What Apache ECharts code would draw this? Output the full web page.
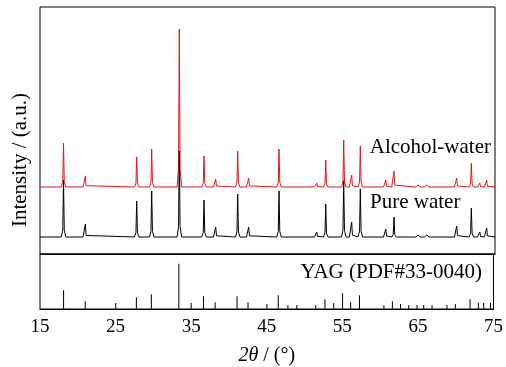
<!DOCTYPE html>
<html>
<head>
<meta charset="utf-8">
<script src="https://cdn.jsdelivr.net/npm/echarts@6/dist/echarts.min.js"></script>
<style>
  html, body { margin: 0; padding: 0; background: #fff; }
  #main { width: 506px; height: 367px; }
</style>
</head>
<body>
<div id="main"></div>
<script>
// peak positions (2theta, deg) of the measured patterns
const peakPos = [18.1, 20.98, 27.75, 29.73, 33.37, 36.63, 38.17, 41.07, 42.52, 46.52,
  51.49, 52.68, 55.05, 56.1, 57.24, 60.6, 61.68, 64.85, 66.0, 69.95, 71.88, 73.0, 73.9];
// peak heights above baseline (a.u.)
const alcoholWater = [44, 11, 30, 38, 158, 31, 8, 36, 9, 38,
  4, 27, 47, 12, 41, 7, 16, 2, 2, 9, 24, 4, 7];
const pureWater = [57, 13, 36, 46, 86, 37, 10, 43, 10, 46,
  5, 33, 56, 15, 48, 8, 20, 2, 2, 11, 29, 5, 9];
const alcoholOffset = 67;
const pureOffset = 17;

// YAG reference card PDF#33-0040
const refPos = [18.12, 20.98, 25.02, 27.75, 29.73, 33.37, 35.0, 36.63, 38.17, 41.07, 42.52,
  45.02, 46.52, 47.8, 48.98, 51.49, 52.7, 53.86, 55.03, 56.1, 57.27, 60.5, 61.62, 62.7,
  63.79, 64.89, 65.77, 66.87, 68.84, 69.95, 71.9, 73.0, 73.7, 74.6];
const refInt = [19, 8, 6, 12, 15, 46, 6, 13, 7, 13, 7,
  5, 14, 4, 4, 4, 10, 6, 16, 7, 14, 4, 8, 5,
  4, 4, 4, 4, 4, 5, 10, 6, 6, 6];

const xTicks = [15, 25, 35, 45, 55, 65, 75];

function pattern(heights, offset) {
  const pts = [[15, offset]];
  peakPos.forEach((p, i) => {
    const h = heights[i];
    pts.push([p - 0.3, offset], [p - 0.1, offset + h * 0.12], [p, offset + h],
      [p + 0.1, offset + h * 0.12], [p + 0.3, offset]);
  });
  pts.push([75, offset]);
  return pts;
}

const chart = echarts.init(document.getElementById('main'));
const font = '"Liberation Serif", "Times New Roman", serif';

const option = {
  animation: false,
  textStyle: { fontFamily: font },
  grid: [
    { left: 40, right: 11, top: 7, height: 247, show: true, borderColor: '#000', borderWidth: 1 },
    { left: 40, right: 11, top: 254, height: 56, show: true, borderColor: '#000', borderWidth: 1 }
  ],
  xAxis: [
    { type: 'value', gridIndex: 0, min: 15, max: 75, interval: 10,
      axisLabel: { show: false }, axisTick: { show: false }, splitLine: { show: false },
      axisLine: { lineStyle: { color: '#000' } } },
    { type: 'value', gridIndex: 1, min: 15, max: 75, interval: 10,
      axisTick: { show: false }, splitLine: { show: false },
      axisLine: { lineStyle: { color: '#000' } },
      axisLabel: { color: '#000', fontSize: 19, fontFamily: font, margin: 9,
        formatter: v => xTicks.includes(v) ? String(v) : '' },
      name: '{i|2θ} / (°)', nameLocation: 'middle', nameGap: 37,
      nameTextStyle: { color: '#000', fontSize: 20, fontFamily: font,
        rich: { i: { fontStyle: 'italic', fontSize: 20, fontFamily: font, color: '#000' } } } }
  ],
  yAxis: [
    { type: 'value', gridIndex: 0, min: 0, max: 247, show: false, splitLine: { show: false } },
    { type: 'value', gridIndex: 1, min: 0, max: 56, show: false, splitLine: { show: false } }
  ],
  series: [
    { type: 'line', name: 'Alcohol-water', xAxisIndex: 0, yAxisIndex: 0,
      data: pattern(alcoholWater, alcoholOffset), showSymbol: false,
      lineStyle: { color: '#e3131b', width: 1 } },
    { type: 'line', name: 'Pure water', xAxisIndex: 0, yAxisIndex: 0,
      data: pattern(pureWater, pureOffset), showSymbol: false,
      lineStyle: { color: '#000', width: 1 } },
    { type: 'bar', name: 'YAG', xAxisIndex: 1, yAxisIndex: 1,
      data: refPos.map((p, i) => [p, refInt[i]]), barWidth: 1,
      itemStyle: { color: '#000' } }
  ],
  graphic: [
    { type: 'text', x: 20, y: 160, rotation: Math.PI / 2,
      style: { text: 'Intensity / (a.u.)', fill: '#000', font: '21px ' + font,
        textAlign: 'center', textVerticalAlign: 'middle' } },
    { type: 'text', x: 491, y: 147,
      style: { text: 'Alcohol-water', fill: '#000', font: '21px ' + font,
        textAlign: 'right', textVerticalAlign: 'middle' } },
    { type: 'text', x: 370, y: 202,
      style: { text: 'Pure water', fill: '#000', font: '21px ' + font,
        textAlign: 'left', textVerticalAlign: 'middle' } },
    { type: 'text', x: 482, y: 272,
      style: { text: 'YAG (PDF#33-0040)', fill: '#000', font: '21px ' + font,
        textAlign: 'right', textVerticalAlign: 'middle' } }
  ]
};
chart.setOption(option);
</script>
</body>
</html>
